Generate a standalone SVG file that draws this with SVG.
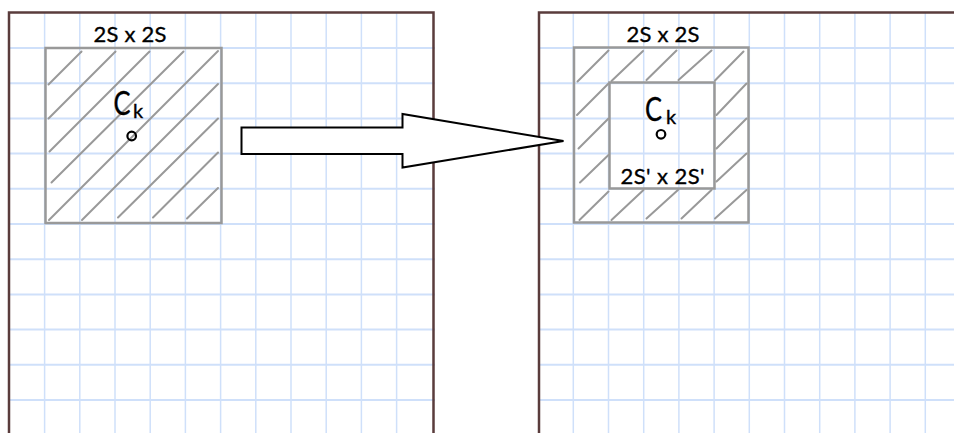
<svg xmlns="http://www.w3.org/2000/svg" width="954" height="433" viewBox="0 0 954 433">
<defs>
<style>
.grid line{stroke:#cfe0fa;stroke-width:1.5}
.grid .h{stroke-width:2}
.border{fill:none;stroke:#5a3c3c;stroke-width:2.5}
.sq{fill:none;stroke:#999;stroke-width:2.5}
.hatch line{stroke:#999;stroke-width:2;stroke-linecap:round}
.lbl{font-family:Lato,"Liberation Sans",sans-serif;font-size:22px;fill:#000;stroke:#000;stroke-width:0.35;text-anchor:middle}
.ck{font-family:Lato,"Liberation Sans",sans-serif;fill:#000;stroke:#000;stroke-width:0.35}
.dot{fill:none;stroke:#000;stroke-width:2.2}
.arrow{fill:#fff;stroke:#000;stroke-width:2;stroke-linejoin:miter}
</style>
</defs>
<rect width="954" height="433" fill="#fff"/>

<g id="panel-left">
  <g class="grid">
    <line x1="44.6" y1="12" x2="44.6" y2="433"/>
    <line x1="79.8" y1="12" x2="79.8" y2="433"/>
    <line x1="115" y1="12" x2="115" y2="433"/>
    <line x1="150.2" y1="12" x2="150.2" y2="433"/>
    <line x1="185.4" y1="12" x2="185.4" y2="433"/>
    <line x1="220.6" y1="12" x2="220.6" y2="433"/>
    <line x1="255.8" y1="12" x2="255.8" y2="433"/>
    <line x1="291" y1="12" x2="291" y2="433"/>
    <line x1="326.2" y1="12" x2="326.2" y2="433"/>
    <line x1="361.4" y1="12" x2="361.4" y2="433"/>
    <line x1="396.6" y1="12" x2="396.6" y2="433"/>
    <line class="h" x1="9" y1="48" x2="435" y2="48"/>
    <line class="h" x1="9" y1="83.2" x2="435" y2="83.2"/>
    <line class="h" x1="9" y1="118.4" x2="435" y2="118.4"/>
    <line class="h" x1="9" y1="153.6" x2="435" y2="153.6"/>
    <line class="h" x1="9" y1="188.8" x2="435" y2="188.8"/>
    <line class="h" x1="9" y1="224" x2="435" y2="224"/>
    <line class="h" x1="9" y1="259.2" x2="435" y2="259.2"/>
    <line class="h" x1="9" y1="294.4" x2="435" y2="294.4"/>
    <line class="h" x1="9" y1="329.6" x2="435" y2="329.6"/>
    <line class="h" x1="9" y1="364.8" x2="435" y2="364.8"/>
    <line class="h" x1="9" y1="400" x2="435" y2="400"/>
  </g>
  <path class="border" d="M9,434 V12.5 H433.5 V434"/>
</g>

<g id="panel-right">
  <g class="grid">
    <line x1="573.3" y1="12" x2="573.3" y2="433"/>
    <line x1="608.5" y1="12" x2="608.5" y2="433"/>
    <line x1="643.7" y1="12" x2="643.7" y2="433"/>
    <line x1="678.9" y1="12" x2="678.9" y2="433"/>
    <line x1="714.1" y1="12" x2="714.1" y2="433"/>
    <line x1="749.3" y1="12" x2="749.3" y2="433"/>
    <line x1="784.5" y1="12" x2="784.5" y2="433"/>
    <line x1="819.7" y1="12" x2="819.7" y2="433"/>
    <line x1="854.9" y1="12" x2="854.9" y2="433"/>
    <line x1="890.1" y1="12" x2="890.1" y2="433"/>
    <line x1="925.3" y1="12" x2="925.3" y2="433"/>
    <line class="h" x1="538" y1="48" x2="954" y2="48"/>
    <line class="h" x1="538" y1="83.2" x2="954" y2="83.2"/>
    <line class="h" x1="538" y1="118.4" x2="954" y2="118.4"/>
    <line class="h" x1="538" y1="153.6" x2="954" y2="153.6"/>
    <line class="h" x1="538" y1="188.8" x2="954" y2="188.8"/>
    <line class="h" x1="538" y1="224" x2="954" y2="224"/>
    <line class="h" x1="538" y1="259.2" x2="954" y2="259.2"/>
    <line class="h" x1="538" y1="294.4" x2="954" y2="294.4"/>
    <line class="h" x1="538" y1="329.6" x2="954" y2="329.6"/>
    <line class="h" x1="538" y1="364.8" x2="954" y2="364.8"/>
    <line class="h" x1="538" y1="400" x2="954" y2="400"/>
  </g>
  <path class="border" d="M539,434 V12.5 H955"/>
</g>

<g id="region-left">
  <g class="hatch">
    <line x1="48.5" y1="84.5" x2="81.5" y2="51.5"/>
    <line x1="48.5" y1="118.5" x2="115.5" y2="51.5"/>
    <line x1="49.5" y1="151.5" x2="149.5" y2="51.5"/>
    <line x1="51.5" y1="182.5" x2="183.5" y2="51.5"/>
    <line x1="49" y1="220" x2="218" y2="51"/>
    <line x1="82" y1="220" x2="218" y2="84"/>
    <line x1="118" y1="217.5" x2="218" y2="118.5"/>
    <line x1="153" y1="217.5" x2="218" y2="152.5"/>
    <line x1="187" y1="218.5" x2="218" y2="188"/>
  </g>
  <rect class="sq" x="45.5" y="48" width="176" height="175"/>
  <text class="lbl" x="130" y="41.5" textLength="73" lengthAdjust="spacing">2S x 2S</text>
  <text class="ck" x="113.5" y="114.5" font-size="32" textLength="17" lengthAdjust="spacingAndGlyphs">C</text>
  <text class="ck" x="133" y="118" font-size="20">k</text>
  <circle class="dot" cx="131.7" cy="136" r="4.3"/>
</g>

<g id="region-right">
  <g class="hatch">
    <line x1="577.5" y1="81.5" x2="608.5" y2="50.5"/>
    <line x1="611.5" y1="81" x2="643" y2="51"/>
    <line x1="646.5" y1="80" x2="676.5" y2="50.5"/>
    <line x1="678.5" y1="80" x2="711.5" y2="50.5"/>
    <line x1="715" y1="80.5" x2="743.5" y2="51.5"/>
    <line x1="577" y1="115" x2="608.5" y2="83.5"/>
    <line x1="578.5" y1="148.5" x2="608.5" y2="118.5"/>
    <line x1="580" y1="182.5" x2="608.5" y2="155"/>
    <line x1="716.5" y1="115" x2="746.5" y2="83.5"/>
    <line x1="716.5" y1="148.5" x2="746.5" y2="118.5"/>
    <line x1="716.5" y1="181.5" x2="746.5" y2="153.5"/>
    <line x1="579.5" y1="220" x2="608.5" y2="191.5"/>
    <line x1="611.5" y1="220" x2="643.5" y2="190"/>
    <line x1="646.5" y1="218.5" x2="678.5" y2="189.5"/>
    <line x1="681.5" y1="218.5" x2="711.5" y2="190"/>
    <line x1="715" y1="218.5" x2="746.5" y2="190"/>
  </g>
  <rect class="sq" x="574" y="47.5" width="174.5" height="175"/>
  <rect class="sq" x="609.5" y="82.5" width="105" height="106"/>
  <text class="lbl" x="663" y="41.5" textLength="73" lengthAdjust="spacing">2S x 2S</text>
  <text class="ck" x="645" y="120.5" font-size="32" textLength="17" lengthAdjust="spacingAndGlyphs">C</text>
  <text class="ck" x="666" y="124" font-size="20">k</text>
  <circle class="dot" cx="661" cy="134.3" r="4.3"/>
  <text class="lbl" x="662.5" y="184" textLength="84" lengthAdjust="spacing">2S' x 2S'</text>
</g>

<g id="connectors">
  <path class="arrow" d="M241.5,127.5 H402.5 V114 L563.5,141 L402.5,167.5 V154 H241.5 Z"/>
</g>
</svg>
